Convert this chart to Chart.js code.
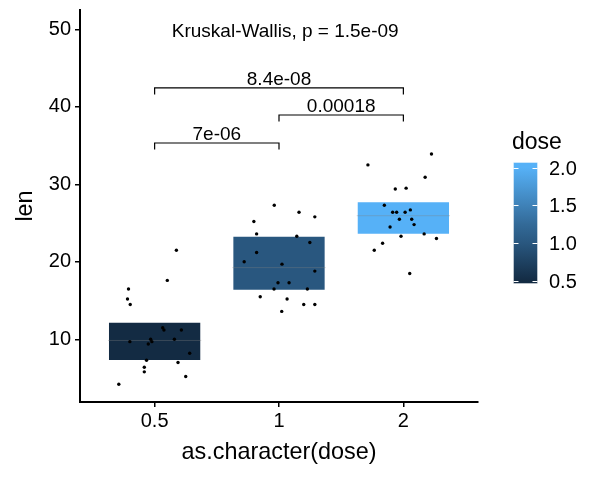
<!DOCTYPE html>
<html>
<head>
<meta charset="utf-8">
<script src="https://cdn.jsdelivr.net/npm/chart.js@4.4.0/dist/chart.umd.min.js"></script>
<style>
  html, body { margin: 0; padding: 0; background: #fff; }
</style>
</head>
<body>
<canvas id="lenChart" width="600" height="480"></canvas>
<script>
// groups on the x axis (dose as character)
const groups = ['0.5', '1', '2'];
const doses = [0.5, 1, 2];

// crossbar: 1st quartile, median, 3rd quartile of len per dose
const q1 = [7.2, 16.25, 23.5];
const med = [9.85, 19.25, 25.95];
const q3 = [12.25, 23.35, 27.8];

// jittered points: x offset from the group centre, and len
const jitX05 = [0.175, 0.102, -0.21, -0.218, -0.196, 0.065, 0.075, 0.215, -0.032, -0.022, 0.159, -0.199, -0.051, 0.282, -0.065, 0.188, -0.083, -0.083, 0.25, -0.288];
const len05 = [21.5, 17.6, 16.5, 15.2, 14.5, 11.5, 11.2, 11.2, 10, 9.7, 10, 9.7, 9.4, 8.2, 7.3, 7, 6.4, 5.8, 5.2, 4.2];
const jitX1 = [-0.038, 0.161, 0.288, -0.202, -0.18, 0.143, 0.248, -0.18, -0.28, 0.024, 0.288, -0.008, 0.081, -0.04, 0.228, -0.151, 0.065, 0.199, 0.288, 0.022];
const len1 = [27.3, 26.4, 25.8, 25.2, 23.6, 23.3, 22.5, 21.2, 20, 19.7, 18.8, 17.3, 17.3, 16.5, 16.5, 15.5, 15.2, 14.5, 14.5, 13.6];
const jitX2 = [0.226, -0.285, 0.175, -0.065, 0.022, -0.153, -0.086, -0.054, 0.014, 0.056, -0.032, 0.067, 0.086, -0.107, -0.019, 0.167, 0.266, -0.167, -0.234, 0.051];
const len2 = [33.9, 32.5, 30.9, 29.4, 29.5, 27.3, 26.4, 26.4, 26.4, 26.7, 25.5, 25.5, 24.8, 24.5, 23.3, 23.6, 23, 22.4, 21.5, 18.5];

// pairwise comparisons (group index from / to, bracket height, p label)
const cmpFrom = [0, 1, 0];
const cmpTo = [1, 2, 2];
const cmpY = [35.33, 38.94, 42.43];
const cmpLabel = ['7e-06', '0.00018', '8.4e-08'];

// global test label
const kwLabel = 'Kruskal-Wallis, p = 1.5e-09';
const kwX = 1.05;
const kwY = 49.0;

// y axis ticks
const yTicks = [10, 20, 30, 40, 50];

// colour bar legend
const legendBreaks = [0.5, 1.0, 1.5, 2.0];
const legendLabels = ['0.5', '1.0', '1.5', '2.0'];

const doseColors = ['#132B43', '#29577F', '#56B1F7'];
const FONT = '"Liberation Sans", Arial, Helvetica, sans-serif';
const boxHalf = 0.375;
const tip = 0.83;

Chart.defaults.font.family = FONT;
Chart.defaults.color = '#000';

const jitters = [jitX05, jitX1, jitX2];
const lens = [len05, len1, len2];
const points = [];
jitters.forEach((jx, g) => {
    jx.forEach((dx, i) => points.push({ x: g + dx, y: lens[g][i] }));
});

const bracketSets = cmpLabel.map((lab, i) => ({
    type: 'line',
    label: lab,
    data: [
        { x: cmpFrom[i], y: cmpY[i] - tip },
        { x: cmpFrom[i], y: cmpY[i] },
        { x: cmpTo[i], y: cmpY[i] },
        { x: cmpTo[i], y: cmpY[i] - tip }
    ],
    borderColor: '#000',
    borderWidth: 1.2,
    pointRadius: 0,
    fill: false,
    tension: 0,
    order: 1
}));

// text labels and colour bar
const extras = {
    id: 'extras',
    afterDatasetsDraw(chart) {
        const { ctx, scales: { x, y } } = chart;
        ctx.save();
        ctx.fillStyle = '#000';
        ctx.textAlign = 'center';
        ctx.textBaseline = 'alphabetic';
        ctx.font = '19px ' + FONT;
        ctx.fillText(kwLabel, x.getPixelForValue(kwX), y.getPixelForValue(kwY));
        cmpLabel.forEach((lab, i) => {
            const cx = (x.getPixelForValue(cmpFrom[i]) + x.getPixelForValue(cmpTo[i])) / 2;
            ctx.fillText(lab, cx, y.getPixelForValue(cmpY[i]) - 3);
        });

        // colour bar
        const bx = 513.5, bw = 24, top = 162.5, bottom = 283.5;
        const yLo = 281, yHi = 167.5;
        const vmin = legendBreaks[0], vmax = legendBreaks[legendBreaks.length - 1];
        const vy = v => yLo - (v - vmin) / (vmax - vmin) * (yLo - yHi);
        const grad = ctx.createLinearGradient(0, vy(vmin), 0, vy(vmax));
        grad.addColorStop(0, '#132B43');
        grad.addColorStop(1 / 3, '#29577F');
        grad.addColorStop(0.5, '#336A98');
        grad.addColorStop(1, '#56B1F7');
        ctx.fillStyle = grad;
        ctx.fillRect(bx, top, bw, bottom - top);
        ctx.strokeStyle = 'rgba(255,255,255,0.4)';
        ctx.lineWidth = 1;
        ctx.strokeRect(bx, top, bw, bottom - top);
        ctx.strokeStyle = '#fff';
        legendBreaks.forEach(v => {
            const py = Math.round(vy(v)) + 0.5;
            ctx.beginPath();
            ctx.moveTo(bx, py); ctx.lineTo(bx + 5, py);
            ctx.moveTo(bx + bw - 5, py); ctx.lineTo(bx + bw, py);
            ctx.stroke();
        });
        ctx.fillStyle = '#000';
        ctx.textAlign = 'left';
        ctx.font = '20px ' + FONT;
        legendBreaks.forEach((v, i) => {
            ctx.fillText(legendLabels[i], 549, vy(v) + 7);
        });
        ctx.font = '23px ' + FONT;
        ctx.fillText('dose', 512, 148.5);
        ctx.restore();
    }
};

new Chart(document.getElementById('lenChart'), {
    type: 'scatter',
    data: {
        datasets: [
            {
                type: 'scatter',
                label: 'len',
                data: points,
                pointRadius: 1.7,
                pointBackgroundColor: '#000',
                pointBorderWidth: 0,
                order: 0
            },
            ...bracketSets,
            {
                type: 'scatter',
                label: 'median',
                data: groups.map((g, i) => ({ x: i, y: med[i] })),
                pointStyle: 'line',
                pointRadius: c => {
                    const s = c.chart.scales.x;
                    return s.getPixelForValue(boxHalf) - s.getPixelForValue(0);
                },
                pointBorderColor: 'rgba(128,128,128,0.35)',
                pointBorderWidth: 1,
                order: 2
            },
            {
                type: 'bar',
                label: 'iqr',
                data: groups.map((g, i) => ({ x: i, y: [q1[i], q3[i]] })),
                backgroundColor: doseColors,
                borderColor: 'rgba(255,255,255,0.4)',
                borderWidth: 1,
                borderSkipped: false,
                categoryPercentage: 1,
                barPercentage: 0.75,
                order: 3
            }
        ]
    },
    options: {
        responsive: false,
        animation: false,
        events: [],
        layout: { padding: { top: 10, right: 122, left: 0, bottom: 0 } },
        plugins: { legend: { display: false }, tooltip: { enabled: false } },
        scales: {
            x: {
                type: 'linear',
                min: -0.6,
                max: 2.6,
                offset: false,
                afterBuildTicks: s => { s.ticks = groups.map((g, i) => ({ value: i })); },
                afterFit: s => { s.height = 78; s.paddingLeft = 0; s.paddingRight = 0; },
                ticks: {
                    callback: v => groups[v],
                    font: { size: 20 },
                    color: '#000',
                    padding: 2,
                    maxRotation: 0
                },
                grid: { offset: false, drawOnChartArea: false, drawTicks: true, tickLength: 5, color: '#000', lineWidth: 1.5 },
                border: { color: '#000', width: 2 },
                title: { display: true, text: 'as.character(dose)', font: { size: 23.4 }, color: '#000', padding: { top: 0, bottom: 13 } }
            },
            y: {
                type: 'linear',
                min: 1.91,
                max: 52.49,
                afterBuildTicks: s => { s.ticks = yTicks.map(v => ({ value: v })); },
                afterFit: s => { s.width = 80; s.paddingTop = 0; s.paddingBottom = 0; },
                ticks: { font: { size: 20 }, color: '#000', padding: 4 },
                grid: { drawOnChartArea: false, drawTicks: true, tickLength: 5, color: '#000', lineWidth: 1.5 },
                border: { color: '#000', width: 2 },
                title: { display: true, text: 'len', font: { size: 23.4 }, color: '#000', padding: { top: 12, bottom: 0 } }
            }
        }
    },
    plugins: [extras]
});
</script>
</body>
</html>
